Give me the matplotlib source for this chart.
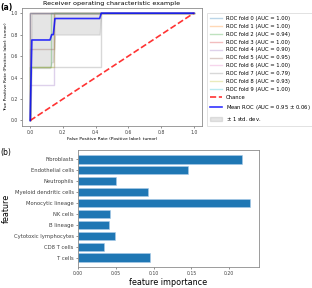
import numpy as np
import matplotlib
matplotlib.use("Agg")
import matplotlib.pyplot as plt

# (a) ROC curves for each CV fold
fold_fpr = [
    [0.0, 0.0, 1.0],
    [0.0, 0.0, 1.0],
    [0.0, 0.0, 0.125, 0.125, 1.0],
    [0.0, 0.0, 1.0],
    [0.0, 0.0, 0.143, 0.143, 1.0],
    [0.0, 0.0, 0.143, 0.143, 1.0],
    [0.0, 0.0, 1.0],
    [0.0, 0.0, 0.43, 0.43, 1.0],
    [0.0, 0.0, 0.143, 0.143, 1.0],
    [0.0, 0.0, 1.0],
]
fold_tpr = [
    [0.0, 1.0, 1.0],
    [0.0, 1.0, 1.0],
    [0.0, 0.5, 0.5, 1.0, 1.0],
    [0.0, 1.0, 1.0],
    [0.0, 0.333, 0.333, 1.0, 1.0],
    [0.0, 0.667, 0.667, 1.0, 1.0],
    [0.0, 1.0, 1.0],
    [0.0, 0.5, 0.5, 1.0, 1.0],
    [0.0, 0.5, 0.5, 1.0, 1.0],
    [0.0, 1.0, 1.0],
]
fold_auc = [1.00, 1.00, 0.94, 1.00, 0.90, 0.95, 1.00, 0.79, 0.93, 1.00]

# (b) feature importance
features = ["Fibroblasts", "Endothelial cells", "Neutrophils", "Myeloid dendritic cells",
            "Monocytic lineage", "NK cells", "B lineage", "Cytotoxic lymphocytes",
            "CD8 T cells", "T cells"]
importance = [0.217, 0.145, 0.050, 0.092, 0.228, 0.042, 0.041, 0.049, 0.034, 0.095]

spine_col = "0.55"
tick_col = "0.25"

fig = plt.figure(figsize=(3.12, 2.88), dpi=100)

# ---- ROC panel
ax1 = fig.add_axes([0.0705, 0.563, 0.577, 0.41])
mean_fpr = np.linspace(0, 1, 100)
tprs = []
for i in range(len(fold_fpr)):
    ax1.plot(fold_fpr[i], fold_tpr[i], lw=1, alpha=0.3,
             label="ROC fold %d (AUC = %0.2f)" % (i, fold_auc[i]))
    t = np.interp(mean_fpr, fold_fpr[i], fold_tpr[i])
    t[0] = 0.0
    tprs.append(t)

ax1.plot([0, 1], [0, 1], linestyle="--", lw=1.2, color="r", alpha=0.8, label="Chance")

mean_tpr = np.mean(tprs, axis=0)
mean_tpr[-1] = 1.0
std_tpr = np.std(tprs, axis=0)
ax1.plot(mean_fpr, mean_tpr, color="b", lw=1.2, alpha=0.8,
         label=r"Mean ROC (AUC = %0.2f $\pm$ %0.2f)" % (np.mean(fold_auc), np.std(fold_auc)))
ax1.fill_between(mean_fpr, np.maximum(mean_tpr - std_tpr, 0), np.minimum(mean_tpr + std_tpr, 1),
                 color="grey", alpha=0.2, label=r"$\pm$ 1 std. dev.")

ax1.set_xlim(-0.05, 1.05)
ax1.set_ylim(-0.05, 1.05)
ax1.set_title("Receiver operating characteristic example", fontsize=4.6, pad=2)
ax1.set_xlabel("False Positive Rate (Positive label: tumor)", fontsize=3.2, labelpad=1.5)
ax1.set_ylabel("True Positive Rate (Positive label: tumor)", fontsize=3.2, labelpad=1.5)
ax1.tick_params(labelsize=3.3, length=1.5, width=0.4, pad=1.5, colors=tick_col)
for s in ax1.spines.values():
    s.set_color(spine_col)
    s.set_linewidth(0.6)
leg = ax1.legend(loc="upper left", bbox_to_anchor=(0.655, 0.965), bbox_transform=fig.transFigure,
                 fontsize=3.8, labelspacing=0.55, borderpad=0.6, handlelength=2.2, frameon=True,
                 fancybox=False, edgecolor="0.8")
leg.get_frame().set_linewidth(0.5)

# ---- feature importance panel
ax2 = fig.add_axes([0.25, 0.073, 0.58, 0.406])
ypos = np.arange(len(features))[::-1]
ax2.barh(ypos, importance, height=0.75, color="#1f77b4", edgecolor="#a9cbe8", linewidth=0.4)
ax2.set_yticks(ypos)
ax2.set_yticklabels(features)
ax2.set_xticks([0.0, 0.05, 0.10, 0.15, 0.20])
ax2.set_xticklabels(["0.00", "0.05", "0.10", "0.15", "0.20"])
ax2.set_xlabel("feature importance", fontsize=5.8, labelpad=1)
ax2.set_ylabel("feature", fontsize=5.8, labelpad=2)
ax2.tick_params(axis="y", labelsize=3.8, length=1.5, width=0.4, pad=1.5, colors=tick_col)
ax2.tick_params(axis="x", labelsize=3.3, length=1.5, width=0.4, pad=1.5, colors=tick_col)
for s in ax2.spines.values():
    s.set_color(spine_col)
    s.set_linewidth(0.6)

fig.text(0.002, 0.99, "(a)", fontsize=5.5, fontweight="bold", va="top", ha="left")
fig.text(0.002, 0.485, "(b)", fontsize=5.5, va="top", ha="left")

fig.savefig("out.png", dpi=100)
